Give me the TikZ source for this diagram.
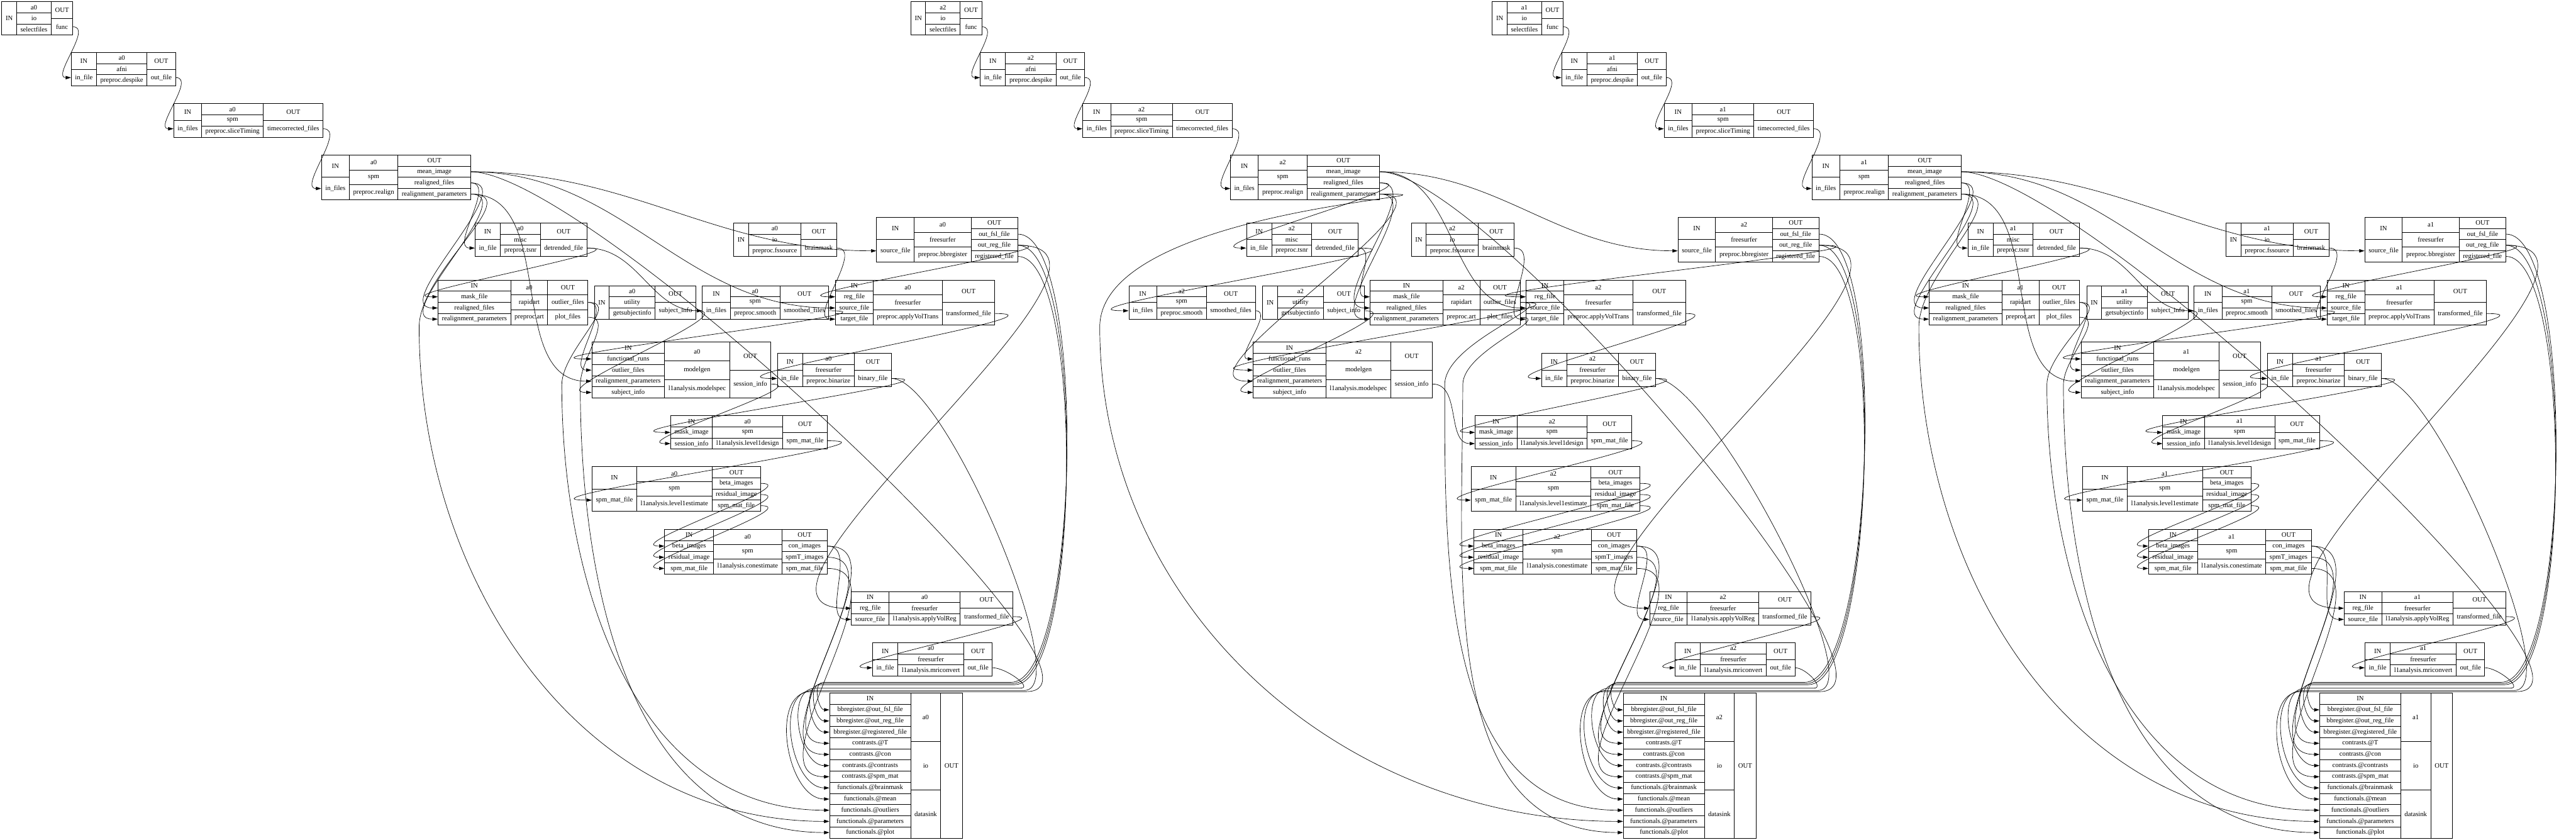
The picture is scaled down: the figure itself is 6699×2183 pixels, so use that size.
\documentclass[tikz,border=0pt]{standalone}
\usepackage{fontspec}
\setmainfont{Liberation Serif}
\usetikzlibrary{arrows.meta, calc}

\catcode`\_=12

% --- Record nodes (IN | name | OUT) ---
\font\recfnt="Liberation Serif" at 1.4pt
\newcommand\recfont{\recfnt}
\newdimen\recw
\newcommand\widest[1]{%
  \global\recw=0pt
  \foreach \itm in #1{%
    \setbox0=\hbox{\recfont\itm}%
    \ifdim\wd0>\recw \global\recw=\wd0 \fi}}
\newcommand\countlist[2]{%
  \def\tmplist{#1}%
  \ifx\tmplist\empty \gdef#2{0}\else
    \foreach \itm [count=\cnt] in {#1}{\xdef#2{\cnt}}\fi}
\newcommand\recnode[7]{% id, position, inputs, label, package, name, outputs
  \countlist{#3}\nin
  \countlist{#7}\nout
  \ifnum\nin>0 \def\inl{IN,#3}\else\def\inl{IN}\fi
  \ifnum\nout>0 \def\outl{OUT,#7}\else\def\outl{OUT}\fi
  \def\midl{#4,#5,#6}%
  \widest\inl\pgfmathsetmacro\wi{\recw+1.6}%
  \widest\midl\pgfmathsetmacro\wm{\recw+1.6}%
  \widest\outl\pgfmathsetmacro\wo{\recw+1.6}%
  \pgfmathsetmacro\hh{max(\nin+1,\nout+1,3)*2.32}%
  \pgfmathsetmacro\xa{-(\wi+\wm+\wo)/2+\wi/2}%
  \pgfmathsetmacro\xb{-(\wi+\wm+\wo)/2+\wi+\wm/2}%
  \pgfmathsetmacro\xc{(\wi+\wm+\wo)/2-\wo/2}%
  \pgfmathsetmacro\hi{\hh/(\nin+1)}%
  \pgfmathsetmacro\hm{\hh/3}%
  \pgfmathsetmacro\ho{\hh/(\nout+1)}%
  \begin{scope}[shift={(#2)}]
    \foreach \itm [count=\kk from 0] in \inl {%
      \pgfmathsetmacro\yy{\hh/2-(\kk+0.5)*\hi}%
      \node[cell, minimum width=\wi pt, minimum height=\hi pt] (#1-i\kk) at (\xa pt,\yy pt) {\itm};}
    \foreach \itm [count=\kk from 0] in \midl {%
      \pgfmathsetmacro\yy{\hh/2-(\kk+0.5)*\hm}%
      \node[cell, minimum width=\wm pt, minimum height=\hm pt] (#1-m\kk) at (\xb pt,\yy pt) {\itm};}
    \foreach \itm [count=\kk from 0] in \outl {%
      \pgfmathsetmacro\yy{\hh/2-(\kk+0.5)*\ho}%
      \node[cell, minimum width=\wo pt, minimum height=\ho pt] (#1-o\kk) at (\xc pt,\yy pt) {\itm};}
  \end{scope}}

% --- One pipeline: nodes ---
\newcommand\fmrinodes[2]{%
  \recnode{#1sel}{#1-sel}{}{#2}{io}{selectfiles}{func}
  \recnode{#1dsp}{#1-dsp}{in_file}{#2}{afni}{preproc.despike}{out_file}
  \recnode{#1slt}{#1-slt}{in_files}{#2}{spm}{preproc.sliceTiming}{timecorrected_files}
  \recnode{#1rea}{#1-rea}{in_files}{#2}{spm}{preproc.realign}{mean_image,realigned_files,realignment_parameters}
  \recnode{#1tsnr}{#1-tsnr}{in_file}{#2}{misc}{preproc.tsnr}{detrended_file}
  \recnode{#1fss}{#1-fss}{}{#2}{io}{preproc.fssource}{brainmask}
  \recnode{#1bbr}{#1-bbr}{source_file}{#2}{freesurfer}{preproc.bbregister}{out_fsl_file,out_reg_file,registered_file}
  \recnode{#1art}{#1-art}{mask_file,realigned_files,realignment_parameters}{#2}{rapidart}{preproc.art}{outlier_files,plot_files}
  \recnode{#1gsi}{#1-gsi}{}{#2}{utility}{getsubjectinfo}{subject_info}
  \recnode{#1smo}{#1-smo}{in_files}{#2}{spm}{preproc.smooth}{smoothed_files}
  \recnode{#1avt}{#1-avt}{reg_file,source_file,target_file}{#2}{freesurfer}{preproc.applyVolTrans}{transformed_file}
  \recnode{#1msp}{#1-msp}{functional_runs,outlier_files,realignment_parameters,subject_info}{#2}{modelgen}{l1analysis.modelspec}{session_info}
  \recnode{#1bin}{#1-bin}{in_file}{#2}{freesurfer}{preproc.binarize}{binary_file}
  \recnode{#1l1d}{#1-l1d}{mask_image,session_info}{#2}{spm}{l1analysis.level1design}{spm_mat_file}
  \recnode{#1l1e}{#1-l1e}{spm_mat_file}{#2}{spm}{l1analysis.level1estimate}{beta_images,residual_image,spm_mat_file}
  \recnode{#1con}{#1-con}{beta_images,residual_image,spm_mat_file}{#2}{spm}{l1analysis.conestimate}{con_images,spmT_images,spm_mat_file}
  \recnode{#1avr}{#1-avr}{reg_file,source_file}{#2}{freesurfer}{l1analysis.applyVolReg}{transformed_file}
  \recnode{#1mri}{#1-mri}{in_file}{#2}{freesurfer}{l1analysis.mriconvert}{out_file}
  \recnode{#1snk}{#1-snk}{bbregister.@out_fsl_file,bbregister.@out_reg_file,bbregister.@registered_file,contrasts.@T,contrasts.@con,contrasts.@contrasts,contrasts.@spm_mat,functionals.@brainmask,functionals.@mean,functionals.@outliers,functionals.@parameters,functionals.@plot}{#2}{io}{datasink}{}}

% --- One pipeline: connections ---
\newcommand\fmriedges[1]{%
  \foreach \kk in {1,...,9}{%
    \coordinate (#1-g\kk) at ($(#1snk-i0.north west)+(-12-4*\kk,-30+3*\kk)$);
    \coordinate (#1-r\kk) at ($(#1snk-o0.north east)+(120+5*\kk,-30+3*\kk)$);}
  \draw[wire] (#1sel-o1.east) to (#1dsp-i1.west);
  \draw[wire] (#1dsp-o1.east) to (#1slt-i1.west);
  \draw[wire] (#1slt-o1.east) to (#1rea-i1.west);
  \draw[wire] (#1rea-o1.east) to (#1bbr-i1.west);
  \draw[wire] (#1rea-o1.east) to (#1avt-i2.west);
  \draw[wire] (#1rea-o2.east) to (#1tsnr-i1.west);
  \draw[wire] (#1rea-o2.east) to (#1art-i2.west);
  \draw[wire] (#1rea-o3.east) to (#1art-i3.west);
  \draw[wire] (#1rea-o3.east) to (#1msp-i3.west);
  \draw[wire] (#1tsnr-o1.east) to (#1art-i1.west);
  \draw[wire] (#1tsnr-o1.east) to (#1smo-i1.west);
  \draw[wire] (#1art-o1.east) to (#1msp-i2.west);
  \draw[wire] (#1gsi-o1.east) to (#1msp-i4.west);
  \draw[wire] (#1smo-o1.east) to (#1msp-i1.west);
  \draw[wire] (#1fss-o1.east) to (#1avt-i3.west);
  \draw[wire] (#1bbr-o2.east) to (#1avt-i1.west);
  \draw[wire] (#1bbr-o2.east) to (#1avr-i1.west);
  \draw[wire] (#1avt-o1.east) to (#1bin-i1.west);
  \draw[wire] (#1bin-o1.east) to (#1l1d-i1.west);
  \draw[wire] (#1msp-o1.east) to (#1l1d-i2.west);
  \draw[wire] (#1l1d-o1.east) to (#1l1e-i1.west);
  \foreach \kk in {1,2,3} \draw[wire] (#1l1e-o\kk.east) to (#1con-i\kk.west);
  \draw[wire] (#1con-o1.east) to (#1avr-i2.west);
  \draw[wire] (#1avr-o1.east) to (#1mri-i1.west);
  % into the datasink
  \draw[wire] (#1bbr-o1.east) to[in=0,looseness=0.4] (#1-r1) -- (#1-g1) to[out=180] (#1snk-i1.west);
  \draw[wire] (#1bbr-o2.east) to[in=0,looseness=0.4] (#1-r2) -- (#1-g2) to[out=180] (#1snk-i2.west);
  \draw[wire] (#1bbr-o3.east) to[in=0,looseness=0.4] (#1-r3) -- (#1-g3) to[out=180] (#1snk-i3.west);
  \draw[wire] (#1con-o2.east) to (#1snk-i4.west);
  \draw[wire] (#1con-o1.east) to (#1snk-i5.west);
  \draw[wire] (#1mri-o1.east) to[in=0] (#1-r6) -- (#1-g6) to[out=180] (#1snk-i6.west);
  \draw[wire] (#1con-o3.east) to (#1snk-i7.west);
  \draw[wire] (#1bin-o1.east) to[in=0,looseness=0.4] (#1-r8) -- (#1-g8) to[out=180] (#1snk-i8.west);
  \draw[wire] (#1rea-o1.east) to[in=0,looseness=0.4] (#1-r9) -- (#1-g9) to[out=180] (#1snk-i9.west);
  \draw[wire] (#1art-o1.east) to[in=90] (#1-lo) to[out=-90] (#1snk-i10.west);
  \draw[wire] (#1rea-o3.east) to[in=90] (#1-lp) to[out=-90] (#1snk-i11.west);
  \draw[wire] (#1art-o2.east) to[in=90] (#1-ll) to[out=-90] (#1snk-i12.west);}

\begin{document}
\begin{tikzpicture}[
    x=0.08pt, y=-0.08pt,
    cell/.style={draw, line width=0.12pt, inner sep=0pt, font=\recfont},
    wire/.style={-{Triangle[length=1.1pt,width=0.7pt]}, line width=0.09pt, out=0, in=180}
]
\useasboundingbox (0,0) rectangle (6699,2183);

% --- Positions of the three pipelines ---
\foreach \nm/\x/\y in {sel/97/48,dsp/321/180,slt/646/313,rea/1030/461,tsnr/1381/623,fss/2042/623,bbr/2463/623,
    art/1334/786,gsi/1678/786,smo/1991/786,avt/2380/786,msp/1772/962,bin/2170/962,l1d/1948/1124,
    l1e/1759/1271,con/1940/1434,avr/2424/1581,mri/2425/1714,snk/2330/1990}
  \coordinate (a0-\nm) at (\x,\y);
\foreach \nm/\x/\y in {sel/2461/48,dsp/2685/180,slt/3010/313,rea/3394/461,tsnr/3387/623,fss/3804/623,bbr/4547/623,
    art/3758/786,gsi/3416/786,smo/3100/786,avt/4176/786,msp/3492/962,bin/4157/962,l1d/4040/1124,
    l1e/4045/1271,con/4045/1434,avr/4500/1581,mri/4512/1714,snk/4394/1990}
  \coordinate (a2-\nm) at (\x,\y);
\foreach \nm/\x/\y in {sel/3973/48,dsp/4197/180,slt/4522/313,rea/4906/461,tsnr/5263/623,fss/5923/623,bbr/6333/623,
    art/5212/786,gsi/5559/786,smo/5870/786,avt/6259/786,msp/5645/962,bin/6045/962,l1d/5828/1124,
    l1e/5635/1271,con/5799/1434,avr/6306/1581,mri/6306/1714,snk/6205/1990}
  \coordinate (a1-\nm) at (\x,\y);

% --- Lanes for the long links on the left ---
\coordinate (a0-lp) at (1090,850);
\coordinate (a0-lo) at (1461,1000);
\coordinate (a0-ll) at (1509,1000);
\coordinate (a2-lp) at (2860,850);
\coordinate (a2-lo) at (3757,1000);
\coordinate (a2-ll) at (3804,1000);
\coordinate (a1-lp) at (4990,850);
\coordinate (a1-lo) at (5323,1000);
\coordinate (a1-ll) at (5366,1000);

% --- Nodes ---
\fmrinodes{a0}{a0}
\fmrinodes{a2}{a2}
\fmrinodes{a1}{a1}

% --- Links ---
\fmriedges{a0}
\fmriedges{a2}
\fmriedges{a1}

\end{tikzpicture}
\end{document}
